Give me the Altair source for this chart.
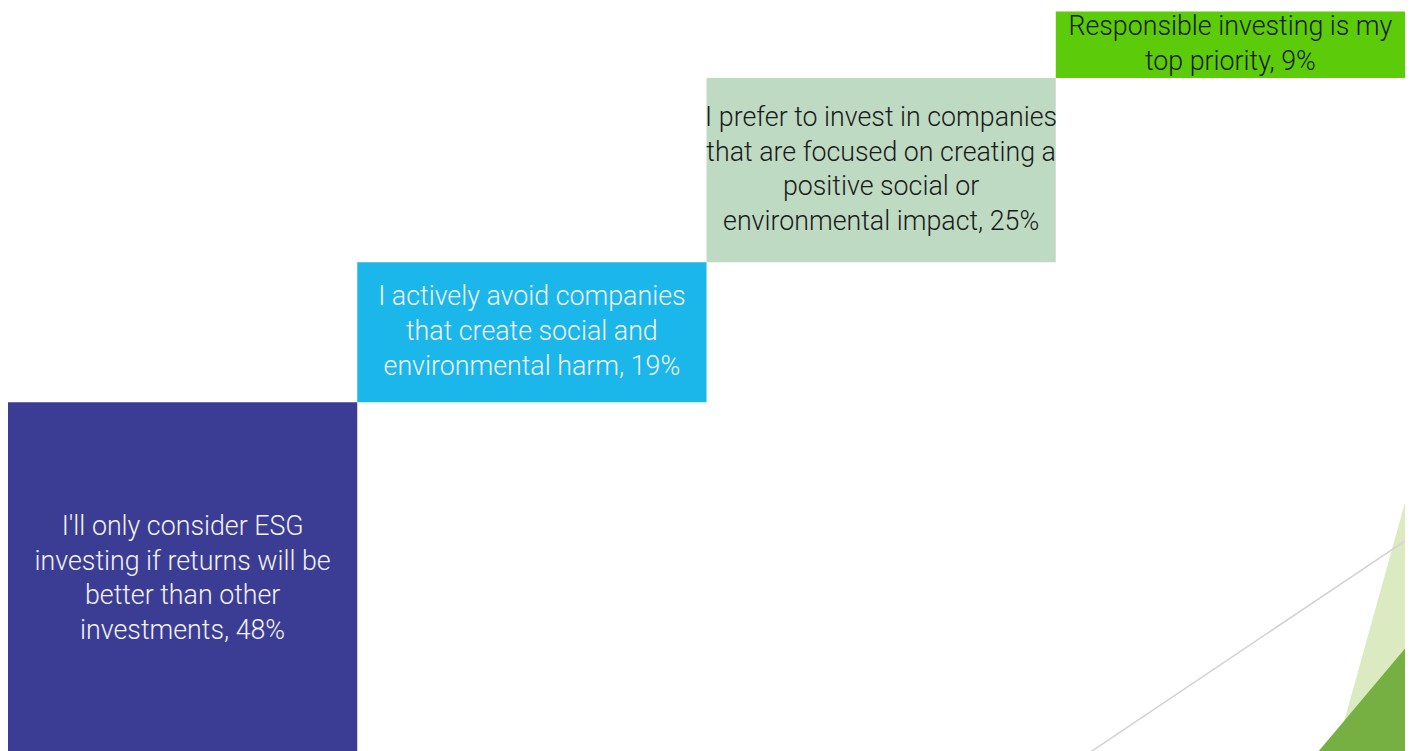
import altair as alt
import pandas as pd

# --- data -------------------------------------------------------------
labels = [
    "I'll only consider ESG\ninvesting if returns will be\nbetter than other\ninvestments, 48%",
    "I actively avoid companies\nthat create social and\nenvironmental harm, 19%",
    "I prefer to invest in companies\nthat are focused on creating a\npositive social or\nenvironmental impact, 25%",
    "Responsible investing is my\ntop priority, 9%",
]
values = [48, 19, 25, 9]
fills = ["#3B3D95", "#1BB7EB", "#BFDAC2", "#5BCB0A"]
text_colors = ["#F2F2F2", "#F2F2F2", "#1A1A1A", "#1A1A1A"]

# decorative corner shapes (data space: x in steps, y in %)
deco_light_x = [3.798, 4.0]
deco_light_y = [0, 34.4]
deco_dark_x = [3.741, 4.0]
deco_dark_y = [0, 14.6]
deco_line_x = [3.082, 4.0]
deco_line_y = [0, 29.2]

LINE_H = 35

# --- tables -----------------------------------------------------------
ends, starts, acc = [], [], 0
for v in values:
    starts.append(acc)
    acc += v
    ends.append(acc)

df = pd.DataFrame({
    "label": labels,
    "value": values,
    "x0": list(range(len(values))),
    "x1": [i + 1 for i in range(len(values))],
    "xm": [i + 0.5 for i in range(len(values))],
    "y0": starts,
    "y1": ends,
    "ym": [(a + b) / 2 for a, b in zip(starts, ends)],
    "nlines": [l.count("\n") + 1 for l in labels],
    "fill": fills,
    "tcolor": text_colors,
})

light = pd.DataFrame({"x": deco_light_x, "y": deco_light_y})
dark = pd.DataFrame({"x": deco_dark_x, "y": deco_dark_y})
line = pd.DataFrame({"x": deco_line_x, "y": deco_line_y})

xs = alt.Scale(domain=[0, 4], nice=False, zero=False)
ys = alt.Scale(domain=[0, 99.2], nice=False, zero=True)

X = lambda f: alt.X(f, type="quantitative", scale=xs, axis=None)
Y = lambda f: alt.Y(f, type="quantitative", scale=ys, axis=None)

bars = alt.Chart(df).mark_rect(clip=False).encode(
    x=X("x0"), x2="x1", y=Y("y0"), y2="y1",
    color=alt.Color("fill:N", scale=None),
)

text_layers = []
for n in sorted(set(df["nlines"])):
    text_layers.append(
        alt.Chart(df).transform_filter(alt.datum.nlines == int(n)).mark_text(
            font="Roboto", fontWeight=300, fontSize=27, lineHeight=LINE_H,
            lineBreak="\n", align="center", baseline="middle",
            dy=-(int(n) - 1) * LINE_H / 2,
        ).encode(
            x=X("xm"), y=Y("ym"), text="label:N",
            color=alt.Color("tcolor:N", scale=None),
        )
    )

tri_light = alt.Chart(light).mark_area(color="#DCEAC2", opacity=1).encode(
    x=X("x"), y=Y("y")
)
tri_dark = alt.Chart(dark).mark_area(color="#76B043", opacity=1).encode(
    x=X("x"), y=Y("y")
)
gline = alt.Chart(line).mark_line(color="#D2D2D2", strokeWidth=1.5).encode(
    x=X("x"), y=Y("y")
)

chart = alt.layer(tri_light, gline, tri_dark, bars, *text_layers).properties(
    width=1408, height=737, padding=0,
).configure_view(strokeWidth=0)

chart.save("out.html", embed_options={"renderer": "svg", "actions": False})
